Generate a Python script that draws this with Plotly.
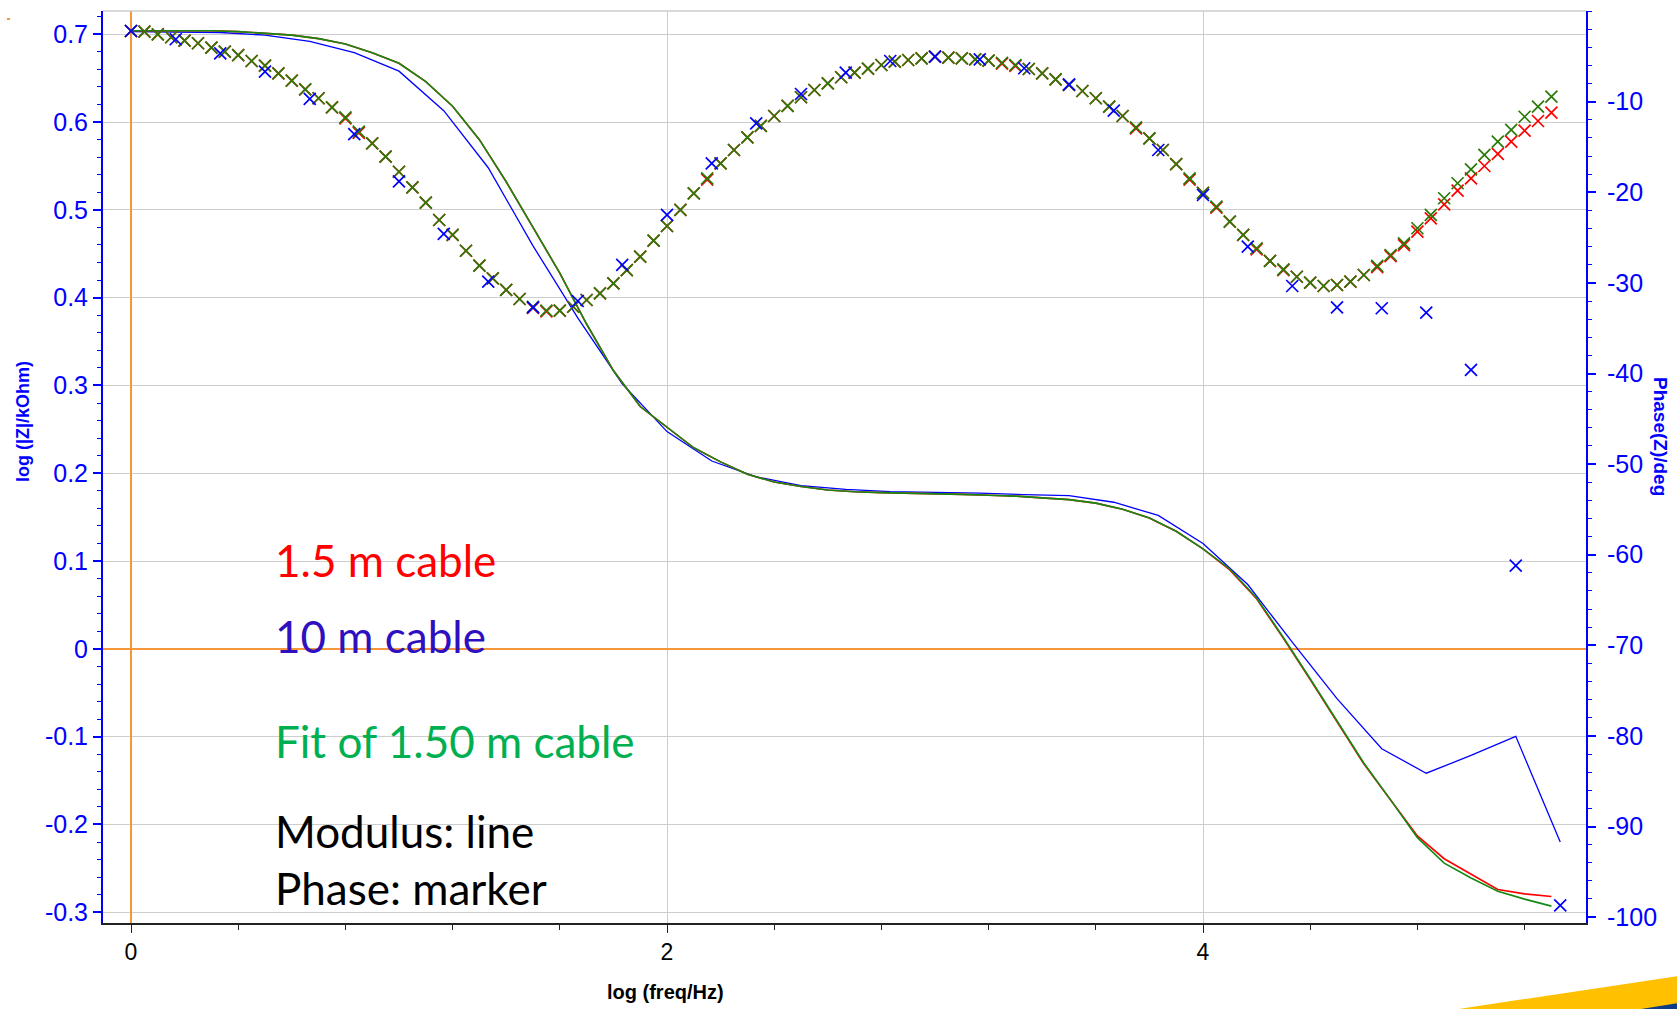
import plotly.graph_objects as go

# ---------------- data ----------------
# log(freq/Hz) grid of the 1.5 m cable and its fit (phase markers)
LOGF_FIT = [0.00, 0.05, 0.10, 0.15, 0.20, 0.25, 0.30, 0.35, 0.40, 0.45,
            0.50, 0.55, 0.60, 0.65, 0.70, 0.75, 0.80, 0.85, 0.90, 0.95,
            1.00, 1.05, 1.10, 1.15, 1.20, 1.25, 1.30, 1.35, 1.40, 1.45,
            1.50, 1.55, 1.60, 1.65, 1.70, 1.75, 1.80, 1.85, 1.90, 1.95,
            2.00, 2.05, 2.10, 2.15, 2.20, 2.25, 2.30, 2.35, 2.40, 2.45,
            2.50, 2.55, 2.60, 2.65, 2.70, 2.75, 2.80, 2.85, 2.90, 2.95,
            3.00, 3.05, 3.10, 3.15, 3.20, 3.25, 3.30, 3.35, 3.40, 3.45,
            3.50, 3.55, 3.60, 3.65, 3.70, 3.75, 3.80, 3.85, 3.90, 3.95,
            4.00, 4.05, 4.10, 4.15, 4.20, 4.25, 4.30, 4.35, 4.40, 4.45,
            4.50, 4.55, 4.60, 4.65, 4.70, 4.75, 4.80, 4.85, 4.90, 4.95,
            5.00, 5.05, 5.10, 5.15, 5.20, 5.25, 5.30]

FIT_PHASE = [-2.20, -2.27, -2.56, -2.89, -3.27, -3.55, -4.04, -4.48, -4.85, -5.51,
             -6.03, -6.87, -7.68, -8.63, -9.62, -10.62, -11.72, -13.31, -14.60, -16.07,
             -17.73, -19.45, -21.15, -23.06, -24.71, -26.45, -28.10, -29.49, -30.78, -31.78,
             -32.63, -33.07, -33.07, -32.63, -31.89, -31.15, -30.05, -28.58, -27.11, -25.34,
             -23.72, -21.95, -20.11, -18.46, -16.80, -15.33, -13.93, -12.68, -11.58, -10.47,
             -9.51, -8.71, -7.97, -7.30, -6.80, -6.35, -5.95, -5.58, -5.40, -5.21,
             -5.03, -5.14, -5.21, -5.32, -5.47, -5.70, -5.95, -6.39, -6.87, -7.53,
             -8.16, -8.82, -9.62, -10.55, -11.58, -12.83, -14.04, -15.33, -16.88, -18.46,
             -20.07, -21.59, -23.24, -24.71, -26.18, -27.58, -28.50, -29.32, -29.98, -30.34,
             -30.23, -29.87, -29.13, -28.13, -26.92, -25.63, -23.97, -22.50, -20.66, -19.00,
             -17.46, -15.88, -14.41, -13.12, -11.66, -10.55, -9.45]

CABLE15_PHASE = [-2.20, -2.27, -2.56, -2.89, -3.27, -3.55, -4.04, -4.48, -4.85, -5.51,
                 -6.03, -6.87, -7.68, -8.63, -9.62, -10.62, -11.85, -13.45, -14.60, -16.07,
                 -17.73, -19.45, -21.15, -23.06, -24.71, -26.45, -28.10, -29.49, -30.78, -31.78,
                 -32.75, -33.15, -33.07, -32.63, -31.89, -31.15, -30.05, -28.58, -27.11, -25.34,
                 -23.72, -21.95, -20.11, -18.60, -16.80, -15.33, -13.93, -12.68, -11.58, -10.47,
                 -9.51, -8.71, -7.97, -7.30, -6.80, -6.35, -5.95, -5.58, -5.40, -5.21,
                 -5.03, -5.14, -5.21, -5.32, -5.47, -5.80, -6.05, -6.39, -6.87, -7.53,
                 -8.16, -8.82, -9.62, -10.55, -11.58, -12.95, -14.04, -15.33, -16.88, -18.60,
                 -20.07, -21.70, -23.24, -24.71, -26.30, -27.58, -28.60, -29.32, -29.98, -30.34,
                 -30.23, -29.87, -29.13, -28.25, -27.05, -25.82, -24.35, -22.87, -21.33, -19.82,
                 -18.46, -17.10, -15.77, -14.41, -13.20, -12.13, -11.21]

# modulus lines of the 1.5 m cable and its fit
LOGF_MOD = [0.0, 0.1, 0.2, 0.3, 0.4, 0.5, 0.6, 0.7, 0.8, 0.9,
            1.0, 1.1, 1.2, 1.3, 1.4, 1.5, 1.6, 1.7, 1.8, 1.9,
            2.0, 2.1, 2.2, 2.3, 2.4, 2.5, 2.6, 2.7, 2.8, 2.9,
            3.0, 3.1, 3.2, 3.3, 3.4, 3.5, 3.6, 3.7, 3.8, 3.9,
            4.0, 4.1, 4.2, 4.3, 4.4, 4.5, 4.6, 4.7, 4.8, 4.9,
            5.0, 5.1, 5.2, 5.3]

CABLE15_MOD = [0.704, 0.704, 0.704, 0.704, 0.703, 0.701, 0.699, 0.695, 0.689, 0.679,
               0.667, 0.646, 0.618, 0.580, 0.532, 0.480, 0.428, 0.370, 0.317, 0.276,
               0.252, 0.229, 0.213, 0.199, 0.190, 0.185, 0.181, 0.179, 0.178, 0.1775,
               0.177, 0.176, 0.175, 0.174, 0.172, 0.170, 0.166, 0.159, 0.149, 0.134,
               0.114, 0.090, 0.057, 0.012, -0.035, -0.083, -0.131, -0.172, -0.213, -0.239,
               -0.257, -0.274, -0.279, -0.282]

FIT_MOD = [0.704, 0.704, 0.704, 0.704, 0.703, 0.701, 0.699, 0.695, 0.689, 0.679,
           0.667, 0.646, 0.618, 0.580, 0.532, 0.480, 0.428, 0.370, 0.317, 0.276,
           0.252, 0.229, 0.213, 0.199, 0.190, 0.185, 0.181, 0.179, 0.178, 0.1775,
           0.177, 0.176, 0.175, 0.174, 0.172, 0.170, 0.166, 0.159, 0.149, 0.134,
           0.114, 0.091, 0.058, 0.013, -0.034, -0.082, -0.130, -0.172, -0.215, -0.244,
           -0.261, -0.276, -0.285, -0.293]

# 10 m cable (6 points per decade)
LOGF_10M = [0.000, 0.167, 0.333, 0.500, 0.667, 0.833, 1.000, 1.167, 1.333, 1.500,
            1.667, 1.833, 2.000, 2.167, 2.333, 2.500, 2.667, 2.833, 3.000, 3.167,
            3.333, 3.500, 3.667, 3.833, 4.000, 4.167, 4.333, 4.500, 4.667, 4.833,
            5.000, 5.167, 5.333]

CABLE10_MOD = [0.703, 0.7027, 0.702, 0.699, 0.692, 0.679, 0.658, 0.613, 0.548, 0.459,
               0.377, 0.302, 0.2475, 0.214, 0.196, 0.186, 0.1816, 0.179, 0.1786, 0.1775,
               0.1756, 0.1745, 0.167, 0.152, 0.120, 0.0733, 0.0076, -0.0567, -0.1138, -0.1416,
               -0.1214, -0.0996, -0.220]

CABLE10_PHASE = [-2.2, -3.11, -4.66, -6.69, -9.7, -13.57, -18.8, -24.6, -29.86, -32.7,
                 -32.0, -28.0, -22.5, -16.8, -12.39, -9.15, -6.8, -5.51, -5.03, -5.32,
                 -6.31, -8.08, -10.99, -15.33, -20.3, -26.0, -30.34, -32.7, -32.8, -33.29,
                 -39.6, -61.2, -98.7]

# tick labels
X_TICKS = [0, 2, 4]
X_TICKTEXT = ["0", "2", "4"]
Y_TICKS = [0.7, 0.6, 0.5, 0.4, 0.3, 0.2, 0.1, 0.0, -0.1, -0.2, -0.3]
Y_TICKTEXT = ["0.7", "0.6", "0.5", "0.4", "0.3", "0.2", "0.1", "0", "-0.1", "-0.2", "-0.3"]
Y2_TICKS = [-10, -20, -30, -40, -50, -60, -70, -80, -90, -100]
Y2_TICKTEXT = ["-10", "-20", "-30", "-40", "-50", "-60", "-70", "-80", "-90", "-100"]

# ---------------- styling ----------------
W, H = 1677, 1009
PL, PR, PT, PB = 103, 1586, 11, 923   # plot area in pixels


def pxx(x):
    return (x - PL) / (PR - PL)


def pxy(y):
    return (PB - y) / (PB - PT)


RED = "#ff0000"
BLUE = "#0000ff"
GREEN_LINE = "#138a13"
GREEN_MARK = "#2a7a08"
ORANGE = "#f5963a"
GRID = "#cdcdcd"
AXFONT = "Liberation Sans, Arial, sans-serif"
TXTFONT = "Lato, Carlito, Calibri, sans-serif"

fig = go.Figure()

# modulus lines (left axis)
fig.add_trace(go.Scatter(x=LOGF_10M, y=CABLE10_MOD, mode="lines",
                         line=dict(color=BLUE, width=1.3), yaxis="y"))
fig.add_trace(go.Scatter(x=LOGF_MOD, y=CABLE15_MOD, mode="lines",
                         line=dict(color=RED, width=1.6), yaxis="y"))
fig.add_trace(go.Scatter(x=LOGF_MOD, y=FIT_MOD, mode="lines",
                         line=dict(color=GREEN_LINE, width=1.6), yaxis="y"))

# phase markers (right axis)
fig.add_trace(go.Scatter(x=LOGF_FIT, y=CABLE15_PHASE, mode="markers", yaxis="y2",
                         marker=dict(symbol="x-thin", size=12,
                                     line=dict(color=RED, width=1.7))))
fig.add_trace(go.Scatter(x=LOGF_FIT, y=FIT_PHASE, mode="markers", yaxis="y2",
                         marker=dict(symbol="x-thin", size=12,
                                     line=dict(color=GREEN_MARK, width=1.7))))
fig.add_trace(go.Scatter(x=LOGF_10M, y=CABLE10_PHASE, mode="markers", yaxis="y2",
                         marker=dict(symbol="x-thin", size=12,
                                     line=dict(color=BLUE, width=1.7))))

x0 = -(131 - PL) / 268.0
x1 = x0 + (PR - PL) / 268.0

fig.update_layout(
    width=W, height=H, autosize=False,
    margin=dict(l=PL, r=W - PR, t=PT, b=H - PB, pad=0),
    paper_bgcolor="white", plot_bgcolor="white",
    showlegend=False,
    xaxis=dict(
        range=[x0, x1],
        tickmode="array", tickvals=X_TICKS, ticktext=X_TICKTEXT,
        ticks="outside", ticklen=8, tickwidth=1.2, tickcolor="#222222",
        tickfont=dict(family=AXFONT, size=23, color="black"),
        showline=True, linecolor="#222222", linewidth=1.5,
        showgrid=True, gridcolor=GRID, gridwidth=1.3,
        zeroline=True, zerolinecolor=ORANGE, zerolinewidth=2,
        minor=dict(tickmode="linear", tick0=0, dtick=0.4, ticks="outside",
                   ticklen=5, tickwidth=1.2, tickcolor="#222222", showgrid=False),
    ),
    yaxis=dict(
        range=[-0.3122, 0.7265],
        tickmode="array", tickvals=Y_TICKS, ticktext=Y_TICKTEXT,
        ticks="outside", ticklen=8, tickwidth=1.5, tickcolor=BLUE,
        tickfont=dict(family=AXFONT, size=25, color=BLUE),
        showline=True, linecolor=BLUE, linewidth=2,
        showgrid=True, gridcolor=GRID, gridwidth=1.3,
        zeroline=True, zerolinecolor=ORANGE, zerolinewidth=2,
        minor=dict(tickmode="linear", tick0=0, dtick=0.02, ticks="outside",
                   ticklen=4, tickwidth=1.2, tickcolor=BLUE, showgrid=False),
    ),
    yaxis2=dict(
        overlaying="y", side="right", anchor="x",
        range=[-100.65, 0.01],
        tickmode="array", tickvals=Y2_TICKS, ticktext=Y2_TICKTEXT,
        ticks="outside", ticklen=8, tickwidth=1.5, tickcolor=BLUE,
        ticklabelstandoff=6,
        tickfont=dict(family=AXFONT, size=25, color=BLUE),
        showline=True, linecolor=BLUE, linewidth=2,
        showgrid=False, zeroline=False,
        minor=dict(tickmode="linear", tick0=0, dtick=2, ticks="outside",
                   ticklen=4, tickwidth=1.2, tickcolor=BLUE, showgrid=False),
    ),
)

annotations = [
    # axis titles
    dict(text="<b>log (freq/Hz)</b>", x=pxx(665), y=pxy(992),
         font=dict(family=AXFONT, size=20, color="black")),
    dict(text="<b>log (|Z|/kOhm)</b>", x=pxx(23), y=pxy(422), textangle=-90,
         font=dict(family=AXFONT, size=18, color=BLUE)),
    dict(text="<b>Phase(Z)/deg</b>", x=pxx(1661), y=pxy(436), textangle=90,
         font=dict(family=AXFONT, size=19, color=BLUE)),
    # in-plot labels
    dict(text="1.5 m cable", x=pxx(273), y=pxy(560), xanchor="left",
         font=dict(family=TXTFONT, size=44, color=RED)),
    dict(text="10 m cable", x=pxx(273), y=pxy(636), xanchor="left",
         font=dict(family=TXTFONT, size=44, color="#2e10c0")),
    dict(text="Fit of 1.50 m cable", x=pxx(273), y=pxy(741), xanchor="left",
         font=dict(family=TXTFONT, size=44, color="#00b050")),
    dict(text="Modulus: line", x=pxx(273), y=pxy(831), xanchor="left",
         font=dict(family=TXTFONT, size=44, color="black")),
    dict(text="Phase: marker", x=pxx(273), y=pxy(888), xanchor="left",
         font=dict(family=TXTFONT, size=44, color="black")),
]
for a in annotations:
    a.setdefault("xanchor", "center")
    a.update(xref="paper", yref="paper", yanchor="middle", showarrow=False)
fig.update_layout(annotations=annotations)


def path(points):
    return "M " + " L ".join(f"{pxx(x):.5f},{pxy(y):.5f}" for x, y in points) + " Z"


fig.update_layout(shapes=[
    # top border of the plot area
    dict(type="line", xref="paper", yref="paper", x0=0, x1=1, y0=1, y1=1,
         line=dict(color=GRID, width=1.5)),
    # slide decoration bottom right
    dict(type="path", xref="paper", yref="paper",
         path=path([(1452, 1010), (1678, 976), (1678, 1010)]),
         fillcolor="#ffc000", line=dict(width=0)),
    dict(type="path", xref="paper", yref="paper",
         path=path([(1635, 1010), (1678, 1003), (1678, 1010)]),
         fillcolor="#0b3c84", line=dict(width=0)),
    # tiny orange mark top left
    dict(type="rect", xref="paper", yref="paper",
         x0=pxx(7), x1=pxx(10), y0=pxy(20), y1=pxy(18),
         fillcolor=ORANGE, line=dict(width=0)),
])

fig.write_html("out.html", post_script="document.body.style.margin='0px';")
